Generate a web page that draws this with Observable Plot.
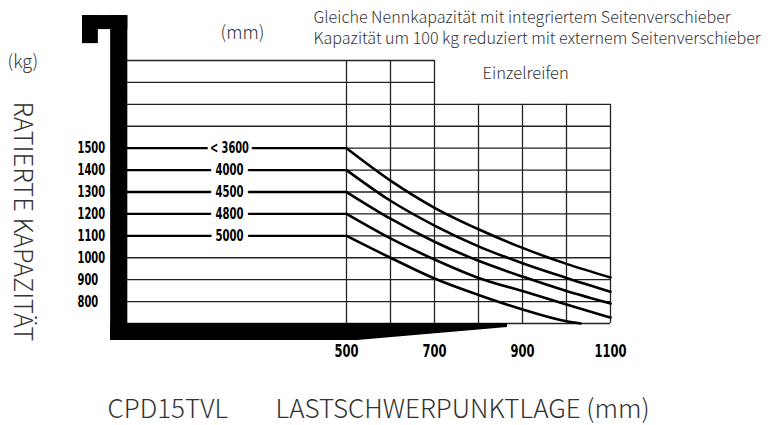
<!DOCTYPE html>
<html><head><meta charset="utf-8">
<script src="https://cdn.jsdelivr.net/npm/d3@7"></script>
<script src="https://cdn.jsdelivr.net/npm/@observablehq/plot@0.6"></script>
<style>
html,body{margin:0;padding:0;background:#fff;}
#chart svg{display:block;}
</style></head><body><div id="chart"></div>
<script>
// ---- data ----
const xTicks = [500, 700, 900, 1100];                 // load centre (mm)
const yTicks = [800, 900, 1000, 1100, 1200, 1300, 1400, 1500]; // kg
const liftHeights = ["< 3600", "4000", "4500", "4800", "5000"];
const ratedCaps = [1500, 1400, 1300, 1200, 1100];
const loadCenters = [500, 600, 700, 800, 900, 1000, 1100];
const cap3600 = [1500, 1352, 1228, 1130, 1045, 972, 910];
const cap4000 = [1400, 1260, 1147, 1052, 975, 908, 845];
const cap4500 = [1300, 1178, 1073, 986, 914, 848, 791];
const cap4800 = [1200, 1088, 992, 908, 848, 787, 727];
const loadCenters5000 = [500, 600, 700, 800, 900, 1000, 1032];
const cap5000 = [1100, 1000, 905, 830, 764, 710, 700];
const gridKg = [700, 800, 900, 1000, 1100, 1200, 1300, 1400, 1500, 1600, 1700, 1800, 1900];
const gridMm = [500, 600, 700, 800, 900, 1000, 1100];
// mast / fork silhouette in chart units (mm, kg)
const mastRects = [
  {x1: -100, x2: 3, y1: 2041, y2: 2105},
  {x1: -100, x2: -64, y1: 1977, y2: 2105},
  {x1: -36, x2: 3, y1: 623, y2: 2105}
];
const forkX = [-36, 525, 866];
const forkBottom = [623, 623, 682];
const forkTop = [700, 700, 700];
const notes1 = "Gleiche Nennkapazität mit integriertem Seitenverschieber";
const notes2 = "Kapazität um 100 kg reduziert mit externem Seitenverschieber";
const noteTyre = "Einzelreifen";
const unitX = "(mm)";
const unitY = "(kg)";
const titleY = "RATIERTE KAPAZITÄT";
const model = "CPD15TVL";
const titleX = "LASTSCHWERPUNKTLAGE (mm)";

// ---- build tables ----
const curveRows = [];
[cap3600, cap4000, cap4500, cap4800].forEach((arr, i) =>
  arr.forEach((v, j) => curveRows.push({s: liftHeights[i], x: loadCenters[j], y: v})));
cap5000.forEach((v, j) => curveRows.push({s: liftHeights[4], x: loadCenters5000[j], y: v}));
const hGrid = gridKg.map(k => ({y: k, x1: 0, x2: k > 1700 ? 700 : 1100}));
const vGrid = gridMm.map(m => ({x: m, y1: 700, y2: m <= 700 ? 1900 : 1700}));
const flats = ratedCaps.map((c, i) => ({y: c, s: liftHeights[i]}));
const fork = forkX.map((x, i) => ({x, y1: forkBottom[i], y2: forkTop[i]}));

const ML = 126, MT = 60;
const light = "'Noto Sans CJK SC', 'Noto Sans', sans-serif";
const narrow = "'DejaVu Sans Condensed', 'Liberation Sans Narrow', sans-serif";
const note = (t, px, py, o = {}) => Plot.text([t], {
  text: d => d, frameAnchor: "top-left", dx: px - ML, dy: py - MT,
  fontFamily: light, fontWeight: 300, fill: "#333", textAnchor: "start", lineAnchor: "middle", ...o
});

const chart = Plot.plot({
  width: 784, height: 425,
  marginLeft: ML, marginRight: 174, marginTop: MT, marginBottom: 102,
  x: {domain: [0, 1100]},
  y: {domain: [700, 1900]},
  style: {background: "#fff", overflow: "visible"},
  marks: [
    Plot.ruleY(hGrid, {y: "y", x1: "x1", x2: "x2", stroke: "#222", strokeWidth: 1.3}),
    Plot.ruleX(vGrid, {x: "x", y1: "y1", y2: "y2", stroke: "#222", strokeWidth: 1.3}),
    Plot.ruleY(flats, {y: "y", x1: 0, x2: 500, stroke: "#000", strokeWidth: 2.4}),
    Plot.line(curveRows, {x: "x", y: "y", z: "s", curve: "monotone-x", stroke: "#000", strokeWidth: 2.6}),
    Plot.text(liftHeights.slice(1), {x: 234, y: (d, i) => ratedCaps[i + 1], text: d => d,
      fontFamily: narrow, fontWeight: "bold", fontSize: 15, fill: "#000",
      stroke: "#fff", strokeWidth: 13, paintOrder: "stroke"}),
    Plot.text(liftHeights.slice(0, 1), {x: 234, y: ratedCaps[0], text: d => d,
      fontFamily: narrow, fontWeight: "bold", fontSize: 15, fill: "#000",
      stroke: "#fff", strokeWidth: 9, paintOrder: "stroke"}),
    Plot.rect(mastRects, {x1: "x1", x2: "x2", y1: "y1", y2: "y2", fill: "#000"}),
    Plot.areaY(fork, {x: "x", y1: "y1", y2: "y2", fill: "#000"}),
    Plot.axisX({ticks: xTicks, tickSize: 0, tickPadding: 21, label: null, tickFormat: d => String(d),
      fontFamily: narrow, fontWeight: "bold", fontSize: 18, fill: "#000"}),
    Plot.axisY({ticks: yTicks, tickSize: 0, tickPadding: 3, dx: -46, textAnchor: "start", label: null,
      tickFormat: d => String(d), fontFamily: narrow, fontWeight: "bold", fontSize: 16, fill: "#000"}),
    note(notes1, 313, 17, {fontSize: 16.1}),
    note(notes2, 313, 38, {fontSize: 16.1}),
    note(noteTyre, 482, 73, {fontSize: 16.5}),
    note(unitX, 220, 33, {fontSize: 18}),
    note(unitY, 7, 62, {fontSize: 18}),
    note(titleY, 22, 221, {fontSize: 25.5, rotate: 90, textAnchor: "middle"}),
    note(model, 107, 409, {fontSize: 26}),
    note(titleX, 275, 409, {fontSize: 26})
  ]
});
// condensed digit glyphs like the reference
const squeeze = (t, w) => { t.setAttribute("textLength", w); t.setAttribute("lengthAdjust", "spacingAndGlyphs"); };
chart.querySelectorAll('g[aria-label="y-axis tick label"] text').forEach(t => squeeze(t, t.textContent.length * 6.9));
chart.querySelectorAll('g[aria-label="x-axis tick label"] text').forEach(t => squeeze(t, t.textContent.length * 8));
chart.querySelectorAll('text').forEach(t => {
  const i = liftHeights.indexOf(t.textContent);
  if (i >= 0) squeeze(t, i === 0 ? 39 : 28);
});
document.getElementById("chart").append(chart);
</script></body></html>
